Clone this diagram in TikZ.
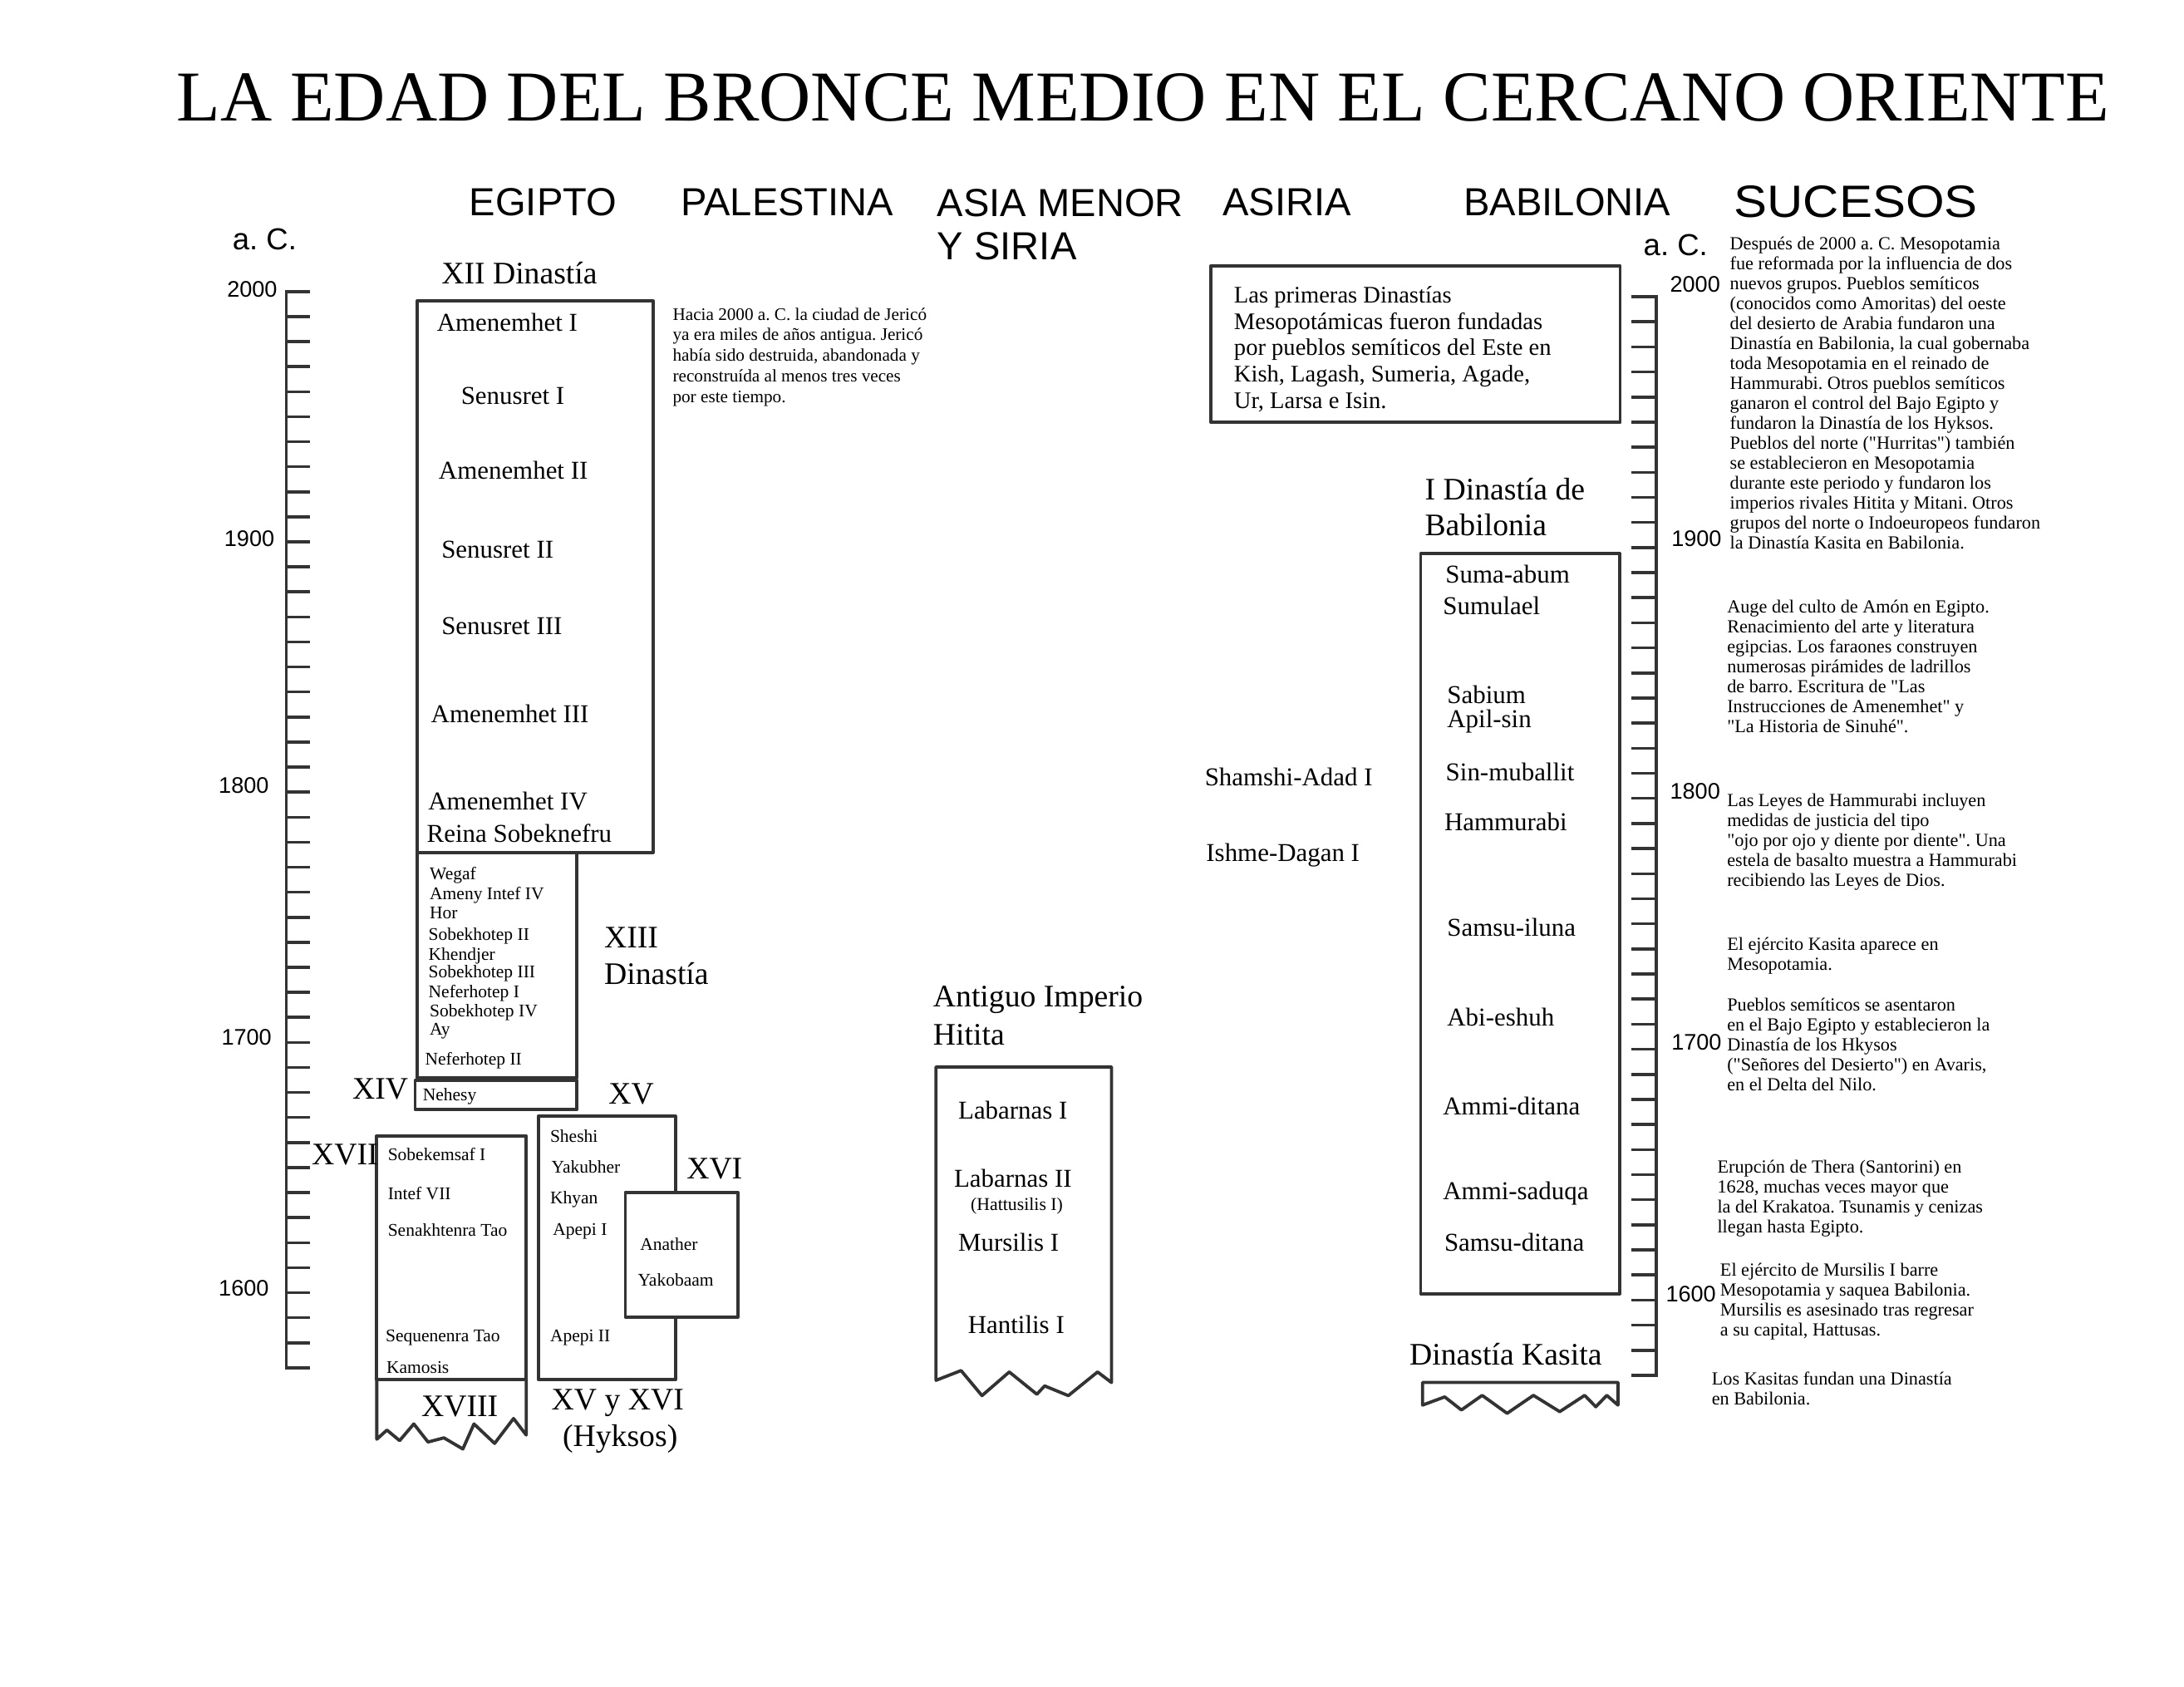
\documentclass[tikz,border=0pt]{standalone}
\usepackage{fontspec}
\setmainfont{Liberation Serif}[Ligatures=TeXOff]
\setsansfont{Liberation Sans}[Ligatures=TeXOff]
\newfontfamily\sucfont{Liberation Sans}[FakeStretch=1.1]
\frenchspacing
\begin{document}
\begin{tikzpicture}[x=0.02cm,y=-0.02cm,
  every node/.style={inner sep=0pt, outer sep=0pt},
  bx/.style={draw=black!80, line width=1.3pt, line join=round},
  axl/.style={draw=black!80, line width=1.2pt},
  ttl/.style={anchor=west, font=\fontsize{29.25}{34}\selectfont},
  hdr/.style={anchor=west, font=\sffamily\fontsize{16}{19}\selectfont},
  yrl/.style={font=\sffamily\fontsize{9.2}{11}\selectfont},
  acl/.style={anchor=west, font=\sffamily\fontsize{12.4}{14}\selectfont},
  lbl/.style={anchor=west, font=\fontsize{12.8}{14}\selectfont},
  nmb/.style={anchor=west, font=\fontsize{10.5}{12}\selectfont},
  bab/.style={anchor=west, font=\fontsize{10.5}{12}\selectfont},
  nms/.style={anchor=west, font=\fontsize{7.3}{8}\selectfont},
  txt/.style={anchor=north west, align=left, font=\fontsize{7.55}{8.15}\selectfont},
]
\fill[white] (0,0) rectangle (1568,1211);
\useasboundingbox (0,0) rectangle (1568,1211);

% Title and headers
\node[ttl] (title) at (127,70) {LA EDAD DEL BRONCE MEDIO EN EL CERCANO ORIENTE};
\node[hdr] (hEg) at (337,145) {EGIPTO};
\node[hdr] (hPa) at (489,145) {PALESTINA};
\node[hdr] (hAs1) at (673,146) {ASIA MENOR};
\node[hdr] (hAs2) at (673,177) {Y SIRIA};
\node[hdr] (hAsi) at (878,145) {ASIRIA};
\node[hdr] (hBa) at (1051,145) {BABILONIA};
\node[anchor=west, font=\sucfont\fontsize{18.5}{22}\selectfont] (hSu) at (1245,145) {SUCESOS};
\node[acl] (acL) at (167,172) {a. C.};
\node[acl] (acR) at (1180,176) {a. C.};

% Left axis
\draw[axl] (222.5,209.3) -- (205.5,209.3) -- (205.5,982) -- (222.5,982);
\foreach \k in {1,...,42} \draw[axl] (205.5,{209.3+17.97*\k}) -- (222.5,{209.3+17.97*\k});
\node[yrl, anchor=east] (yL2000) at (199,208) {2000};
\node[yrl, anchor=east] (yL1900) at (197,387) {1900};
\node[yrl, anchor=east] (yL1800) at (193,564) {1800};
\node[yrl, anchor=east] (yL1700) at (195,745) {1700};
\node[yrl, anchor=east] (yL1600) at (193,925) {1600};

% Right axis
\draw[axl] (1171,213) -- (1189,213) -- (1189,987.5) -- (1171,987.5);
\foreach \k in {1,...,42} \draw[axl] (1171,{213+18.01*\k}) -- (1189,{213+18.01*\k});
\node[yrl, anchor=west] (yR2000) at (1199,204) {2000};
\node[yrl, anchor=west] (yR1900) at (1200,387) {1900};
\node[yrl, anchor=west] (yR1800) at (1199,568) {1800};
\node[yrl, anchor=west] (yR1700) at (1200,748) {1700};
\node[yrl, anchor=west] (yR1600) at (1196,929) {1600};

% ---------- EGIPTO ----------
\node[lbl] (lXII) at (317,196) {XII Dinastía};
\draw[bx] (299.3,216.2) rectangle (469,612);
\node[nmb] (e1) at (313.7,231.3) {Amenemhet I};
\node[nmb] (e2) at (331,284) {Senusret I};
\node[nmb] (e3) at (315,337.5) {Amenemhet II};
\node[nmb] (e4) at (317,394.6) {Senusret II};
\node[nmb] (e5) at (317,449.7) {Senusret III};
\node[nmb] (e6) at (309.5,512.5) {Amenemhet III};
\node[nmb] (e7) at (307.5,575.3) {Amenemhet IV};
\node[nmb] (e8) at (306.5,598) {Reina Sobeknefru};

\draw[bx] (299.3,612) rectangle (414.3,773.7);
\node[nms] (f1) at (308.6,628.5) {Wegaf};
\node[nms] (f2) at (308.6,642.8) {Ameny Intef IV};
\node[nms] (f3) at (308.6,655.3) {Hor};
\node[nms] (f4) at (307.7,672.2) {Sobekhotep II};
\node[nms] (f5) at (307.7,686.2) {Khendjer};
\node[nms] (f6) at (307.7,699) {Sobekhotep III};
\node[nms] (f7) at (307.7,713) {Neferhotep I};
\node[nms] (f8) at (308.6,727) {Sobekhotep IV};
\node[nms] (f9) at (308.6,740) {Ay};
\node[nms] (f10) at (305.2,761.3) {Neferhotep II};
\node[lbl] (lXIIIa) at (433.8,673.2) {XIII};
\node[lbl] (lXIIIb) at (433.8,699) {Dinastía};

\draw[bx] (298,775.8) rectangle (414.3,796.5);
\node[nms] (g1) at (303.6,787.2) {Nehesy};
\node[lbl] (lXIV) at (253,781.6) {XIV};

% XV / XVI
\node[lbl] (lXV) at (437,785.6) {XV};
\draw[bx] (386.5,801.5) rectangle (485,990.5);
\node[nms] (h1) at (395,815.4) {Sheshi};
\node[nms] (h2) at (396,838) {Yakubher};
\node[nms] (h3) at (395,861) {Khyan};
\node[nms] (h4) at (397,884) {Apepi I};
\node[nms] (h5) at (395,960.6) {Apepi II};
\draw[bx, fill=white] (449,856) rectangle (529.7,945.7);
\node[nms] (i1) at (459.6,893) {Anather};
\node[nms] (i2) at (458,919) {Yakobaam};
\node[lbl] (lXVI) at (493,839.3) {XVI};
\node[lbl] (lXVXVI) at (396,1007) {XV y XVI};
\node[lbl] (lHyk) at (404,1033) {(Hyksos)};

% XVII / XVIII
\draw[bx] (270.5,815.4) rectangle (377.8,990.5);
\draw[bx] (270.5,990.5) -- (270.5,1033.3) -- (277.8,1026.7) -- (286.9,1034.3) -- (297.1,1022.3)
  -- (307.3,1035.3) -- (318.7,1032.3) -- (332.3,1040.3) -- (340.3,1022.3) -- (355.1,1036.3)
  -- (368.7,1018.4) -- (377.8,1030.3) -- (377.8,990.5);
\node[lbl] (lXVII) at (223.8,829) {XVII};
\node[nms] (j1) at (278.5,829) {Sobekemsaf I};
\node[nms] (j2) at (278.5,857) {Intef VII};
\node[nms] (j3) at (278.5,883) {Senakhtenra Tao};
\node[nms] (j4) at (276.9,960.6) {Sequenenra Tao};
\node[nms] (j5) at (277.5,981.5) {Kamosis};
\node[lbl] (lXVIII) at (302.6,1010) {XVIII};

% ---------- PALESTINA ----------
\node[txt, font=\fontsize{7.2}{8.4}\selectfont] (pal) at (483,221) {Hacia 2000 a. C. la ciudad de Jericó\\ya era miles de años antigua. Jericó\\había sido destruida, abandonada y\\reconstruída al menos tres veces\\por este tiempo.};

% ---------- ASIA MENOR ----------
\node[lbl] (hit1) at (670,718) {Antiguo Imperio};
\node[lbl] (hit2) at (670,743) {Hitita};
\draw[bx] (672,991) -- (672,766) -- (798,766) -- (798,992.6) -- (788,985) -- (767,1002) -- (750,995)
  -- (744.4,1001) -- (724.6,985) -- (705,1002) -- (690,984) -- cycle;
\node[nmb] (k1) at (688,797) {Labarnas I};
\node[nmb] (k2) at (685,846) {Labarnas II};
\node[anchor=west, font=\fontsize{7.4}{8}\selectfont] (k2b) at (697,866) {(Hattusilis I)};
\node[nmb] (k3) at (688,892) {Mursilis I};
\node[nmb] (k4) at (695,951) {Hantilis I};

% ---------- ASIRIA ----------
\draw[bx] (869.4,190.9) rectangle (1163.2,303.3);
\node[txt, font=\fontsize{9.7}{10.8}\selectfont] (asi) at (886,205.5) {Las primeras Dinastías\\Mesopotámicas fueron fundadas\\por pueblos semíticos del Este en\\Kish, Lagash, Sumeria, Agade,\\Ur, Larsa e Isin.};
\node[nmb] (sa) at (865,558) {Shamshi-Adad I};
\node[nmb] (id) at (866,614) {Ishme-Dagan I};

% ---------- BABILONIA ----------
\node[lbl] (bab1) at (1023,351) {I Dinastía de};
\node[lbl] (bab2) at (1023,377) {Babilonia};
\draw[bx] (1020,397.4) rectangle (1163,928.8);
\node[bab] (b1) at (1037.8,412.3) {Suma-abum};
\node[bab] (b2) at (1036,435) {Sumulael};
\node[bab] (b3) at (1039,499) {Sabium};
\node[bab] (b4) at (1039,518) {Apil-sin};
\node[bab] (b5) at (1038,554) {Sin-muballit};
\node[bab] (b6) at (1037,590) {Hammurabi};
\node[bab] (b7) at (1039,666) {Samsu-iluna};
\node[bab] (b8) at (1039,730) {Abi-eshuh};
\node[bab] (b9) at (1036,794) {Ammi-ditana};
\node[bab] (b10) at (1036,857) {Ammi-saduqa};
\node[bab] (b11) at (1037,892) {Samsu-ditana};
\node[lbl] (kas) at (1012,972) {Dinastía Kasita};
\draw[bx] (1021.3,992.5) -- (1021.3,1008.8) -- (1037.2,1002.9) -- (1049.2,1012.3) -- (1064.1,1001.8)
  -- (1082,1014.7) -- (1100.9,1001.8) -- (1119.8,1013.5) -- (1137.7,1001.8) -- (1145.7,1010)
  -- (1153.6,1001.8) -- (1161.6,1008.8) -- (1161.6,992.5) -- cycle;

% ---------- SUCESOS ----------
\node[txt] (s1) at (1242,169.8) {Después de 2000 a. C. Mesopotamia\\fue reformada por la influencia de dos\\nuevos grupos. Pueblos semíticos\\(conocidos como Amoritas) del oeste\\del desierto de Arabia fundaron una\\Dinastía en Babilonia, la cual gobernaba\\toda Mesopotamia en el reinado de\\Hammurabi. Otros pueblos semíticos\\ganaron el control del Bajo Egipto y\\fundaron la Dinastía de los Hyksos.\\Pueblos del norte ("Hurritas") también\\se establecieron en Mesopotamia\\durante este periodo y fundaron los\\imperios rivales Hitita y Mitani. Otros\\grupos del norte o Indoeuropeos fundaron\\la Dinastía Kasita en Babilonia.};
\node[txt] (s2) at (1240,430.8) {Auge del culto de Amón en Egipto.\\Renacimiento del arte y literatura\\egipcias. Los faraones construyen\\numerosas pirámides de ladrillos\\de barro. Escritura de "Las\\Instrucciones de Amenemhet" y\\"La Historia de Sinuhé".};
\node[txt] (s3) at (1240,569.8) {Las Leyes de Hammurabi incluyen\\medidas de justicia del tipo\\"ojo por ojo y diente por diente". Una\\estela de basalto muestra a Hammurabi\\recibiendo las Leyes de Dios.};
\node[txt] (s4) at (1240,672.8) {El ejército Kasita aparece en\\Mesopotamia.};
\node[txt] (s5) at (1240,716.8) {Pueblos semíticos se asentaron\\en el Bajo Egipto y establecieron la\\Dinastía de los Hkysos\\("Señores del Desierto") en Avaris,\\en el Delta del Nilo.};
\node[txt] (s6) at (1233,832.8) {Erupción de Thera (Santorini) en\\1628, muchas veces mayor que\\la del Krakatoa. Tsunamis y cenizas\\llegan hasta Egipto.};
\node[txt] (s7) at (1235,906.8) {El ejército de Mursilis I barre\\Mesopotamia y saquea Babilonia.\\Mursilis es asesinado tras regresar\\a su capital, Hattusas.};
\node[txt] (s8) at (1229,984.8) {Los Kasitas fundan una Dinastía\\en Babilonia.};
\end{tikzpicture}
\end{document}
